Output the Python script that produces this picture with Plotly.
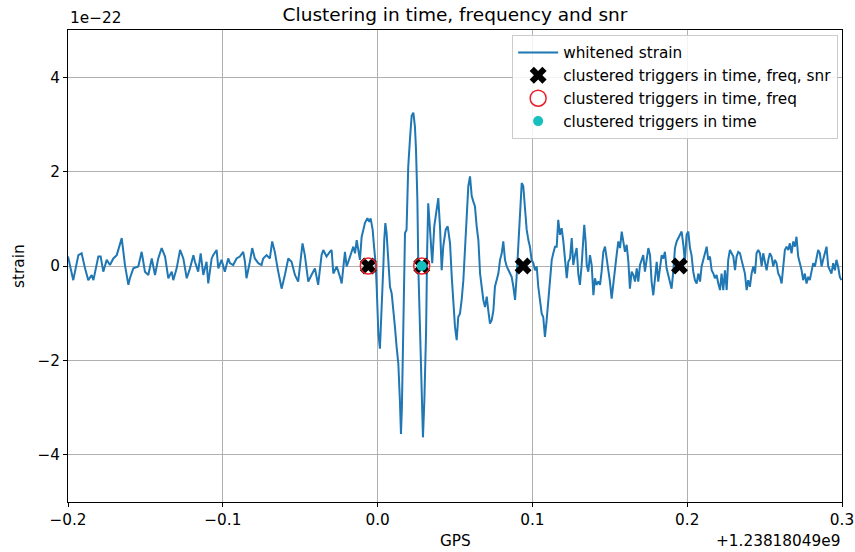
import plotly.graph_objects as go

# ---------------- data (offsets from GPS 1.23818049e9, strain in 1e-22) ----------------
t_offset = [
    -0.2000, -0.1966, -0.1933, -0.1912, -0.1890, -0.1869, -0.1847, -0.1836, -0.1804, -0.1789,
    -0.1772, -0.1750, -0.1729, -0.1707, -0.1685, -0.1653, -0.1632, -0.1610, -0.1600, -0.1578,
    -0.1546, -0.1524, -0.1503, -0.1481, -0.1459, -0.1438, -0.1417, -0.1395, -0.1373, -0.1352,
    -0.1330, -0.1320, -0.1298, -0.1276, -0.1255, -0.1233, -0.1212, -0.1190,
    -0.1180, -0.1159, -0.1143, -0.1126, -0.1105, -0.1094, -0.1072, -0.1062, -0.1040, -0.1029,
    -0.1008, -0.0987, -0.0965, -0.0954, -0.0933, -0.0911, -0.0890, -0.0868, -0.0857, -0.0847,
    -0.0825, -0.0810, -0.0793, -0.0771, -0.0750, -0.0739, -0.0717, -0.0696, -0.0681, -0.0664,
    -0.0646, -0.0631, -0.0620, -0.0599, -0.0577, -0.0556, -0.0534, -0.0513, -0.0491, -0.0485,
    -0.0470, -0.0448, -0.0427, -0.0405, -0.0384, -0.0362, -0.0351, -0.0330, -0.0309,
    -0.0297, -0.0286, -0.0264, -0.0243, -0.0232, -0.0211, -0.0200, -0.0178, -0.0157, -0.0146,
    -0.0135, -0.0114, -0.0103, -0.0092, -0.0082, -0.0066, -0.0053, -0.0045, -0.0032, -0.0023,
    -0.0013, -0.0006, 0.0005, 0.0015, 0.0026, 0.0037, 0.0043, 0.0050, 0.0058, 0.0069,
    0.0080, 0.0091, 0.0101, 0.0112, 0.0123, 0.0134, 0.0144, 0.0151, 0.0157, 0.0166,
    0.0177, 0.0187, 0.0198, 0.0209, 0.0220, 0.0231, 0.0241, 0.0248, 0.0257, 0.0263,
    0.0274, 0.0285, 0.0293, 0.0302, 0.0313, 0.0320, 0.0327, 0.0335, 0.0353,
    0.0366, 0.0381, 0.0392, 0.0403, 0.0414, 0.0424, 0.0440, 0.0453, 0.0468, 0.0479,
    0.0489, 0.0500, 0.0511, 0.0521, 0.0532, 0.0543, 0.0554, 0.0565, 0.0576, 0.0586,
    0.0597, 0.0608, 0.0618, 0.0629, 0.0640, 0.0651, 0.0662, 0.0672, 0.0683, 0.0694,
    0.0705, 0.0715, 0.0726, 0.0737, 0.0748, 0.0758, 0.0769, 0.0780, 0.0791, 0.0802,
    0.0812, 0.0823, 0.0834, 0.0844, 0.0855, 0.0866, 0.0877, 0.0888, 0.0898, 0.0909,
    0.0920, 0.0931, 0.0941, 0.0952, 0.0963, 0.0974, 0.0984, 0.0995, 0.1006, 0.1017,
    0.1028, 0.1038, 0.1049, 0.1060, 0.1070, 0.1081, 0.1092, 0.1103, 0.1114, 0.1125,
    0.1135, 0.1146, 0.1157, 0.1167,
    0.1178, 0.1189, 0.1200, 0.1211, 0.1222, 0.1232, 0.1243, 0.1254, 0.1264, 0.1275,
    0.1286, 0.1297, 0.1307, 0.1318, 0.1329, 0.1335, 0.1344, 0.1351, 0.1361, 0.1372,
    0.1383, 0.1394, 0.1404, 0.1415, 0.1426, 0.1437, 0.1447, 0.1458, 0.1469, 0.1480,
    0.1490, 0.1501, 0.1512, 0.1523, 0.1534, 0.1544, 0.1555, 0.1566, 0.1577, 0.1587,
    0.1598, 0.1609, 0.1620, 0.1630, 0.1641, 0.1652, 0.1663, 0.1674, 0.1684, 0.1695,
    0.1706, 0.1716, 0.1727, 0.1738, 0.1749, 0.1760, 0.1770, 0.1781, 0.1792, 0.1803,
    0.1813, 0.1824, 0.1835, 0.1846, 0.1856, 0.1867, 0.1878, 0.1889, 0.1899, 0.1910,
    0.1921, 0.1932, 0.1942, 0.1953, 0.1964, 0.1975, 0.1985, 0.1996, 0.2007, 0.2018,
    0.2028, 0.2039,
    0.2050, 0.2061, 0.2072, 0.2083, 0.2093, 0.2104, 0.2115, 0.2126, 0.2136, 0.2147,
    0.2158, 0.2169, 0.2179, 0.2190, 0.2201, 0.2212, 0.2222, 0.2233, 0.2244, 0.2255,
    0.2265, 0.2276, 0.2287, 0.2298, 0.2309, 0.2319, 0.2330, 0.2341, 0.2351, 0.2362,
    0.2373, 0.2384, 0.2394, 0.2405, 0.2416, 0.2427, 0.2438, 0.2448, 0.2459, 0.2470,
    0.2481, 0.2491, 0.2502, 0.2513, 0.2524, 0.2534, 0.2545, 0.2556, 0.2567, 0.2577,
    0.2588, 0.2599, 0.2610, 0.2620, 0.2631, 0.2642, 0.2653, 0.2663, 0.2674, 0.2685,
    0.2696, 0.2706, 0.2717, 0.2728, 0.2739, 0.2749, 0.2760, 0.2771, 0.2782, 0.2792,
    0.2803, 0.2814, 0.2825, 0.2835, 0.2846, 0.2857, 0.2868, 0.2878, 0.2889, 0.2900,
    0.2911, 0.2921, 0.2932, 0.2943, 0.2954, 0.2964, 0.2975, 0.2986, 0.2996,
]

strain = [
    0.20, -0.30, 0.23, 0.27, -0.05, -0.30, -0.19, -0.30, 0.20, 0.20,
    -0.12, 0.13, 0.02, 0.16, 0.23, 0.59, 0.02, -0.40, -0.26, -0.05,
    -0.01, 0.30, -0.12, -0.19, 0.16, -0.19, 0.16, 0.38, 0.20, -0.26,
    -0.12, -0.30, -0.05, 0.34, 0.16, -0.26, -0.05, 0.23,
    0.09, -0.12, 0.27, -0.19, 0.09, -0.37, 0.16, 0.23, 0.34, -0.05,
    0.13, -0.12, 0.16, 0.06, 0.02, 0.16, 0.20, 0.30, 0.09, -0.26,
    0.09, 0.38, 0.16, 0.06, 0.02, 0.16, 0.23, 0.16, 0.52, 0.30,
    -0.05, -0.26, -0.48, -0.19, 0.16, 0.09, -0.19, -0.33, 0.30, 0.48,
    0.23, -0.33, -0.19, -0.05, -0.40, 0.23, 0.34, 0.20, 0.30,
    0.34, -0.16, -0.01, -0.23, -0.37, 0.30, -0.01, 0.20, 0.41, 0.27,
    0.55, 0.13, 0.62, 0.77, 0.91, 1.01, 0.94, 1.01, 0.77, 0.41,
    0.06, -0.44, -1.43, -1.75, -1.00, -0.01, 0.55, 0.91, 0.70, 0.13,
    -0.44, -0.58, -0.87, -1.29, -1.72, -2.07, -2.85, -3.56, -2.99, -1.43,
    0.70, 0.77, 2.11, 2.68, 3.18, 3.25, 2.96, 2.47, 1.40, -0.01,
    -1.43, -2.85, -3.63, -2.85, -1.43, 0.30, 1.33, 0.95, 0.06,
    0.84, 1.19, 1.44, 0.84, -0.09, 0.41, 0.77, 0.84, 0.48, -0.23,
    -0.72, -1.29, -1.57, -1.08, -1.01, -0.72, -0.30, 0.41, 1.19, 1.69,
    1.90, 1.48, 1.37, 1.26, 0.84, 0.55, -0.16, -0.44, -0.72, -0.87,
    -0.65, -0.94, -1.22, -1.15, -0.94, -0.44, -0.30, -0.16, 0.13, 0.27,
    0.52, 0.13, -0.01, -0.09, -0.16, -0.23, -0.44, -0.72, -0.23, 0.48,
    1.19, 1.76, 1.69, 1.26, 0.77, 0.55, 0.41, 0.13, 0.06, -0.09,
    -0.01, -0.44, -0.72, -1.01, -1.08, -1.50, -1.15, -0.72, -0.30, 0.13,
    0.27, 0.41, 0.41, 0.98,
    0.66, 0.80, 0.52, 0.09, -0.26, 0.09, 0.16, 0.59, 0.02, 0.23,
    0.38, -0.19, -0.40, 0.02, 0.66, 0.87, 0.52, 0.02, -0.12, 0.23,
    0.02, -0.62, -0.26, -0.40, -0.33, -0.40, -0.12, 0.30, 0.41, 0.16,
    -0.12, -0.33, -0.69, -0.33, -0.12, 0.23, 0.52, 0.38, 0.73, 0.52,
    0.30, 0.45, 0.09, -0.48, -0.12, -0.19, -0.33, -0.05, -0.33, 0.02,
    0.16, 0.23, -0.12, 0.16, 0.38, 0.23, -0.33, -0.62, -0.19, 0.09,
    -0.33, -0.05, 0.23, 0.16, 0.30, -0.05, -0.19, -0.33, -0.48, -0.12,
    0.38, 0.52, 0.59, 0.66, 0.73, 0.45, 0.09, 0.66, 0.73, 0.38,
    0.23, -0.12,
    -0.30, -0.37, -0.16, -0.33, -0.01, 0.13, 0.27, 0.41, 0.13, 0.20,
    -0.09, -0.16, -0.26, -0.19, -0.37, -0.51, -0.16, -0.51, -0.09, -0.51,
    0.13, 0.34, 0.27, 0.20, -0.09, 0.20, 0.30, 0.27, 0.13, -0.01,
    -0.16, -0.51, -0.30, -0.44, -0.16, -0.01, -0.16, 0.27, 0.34, 0.27,
    -0.01, 0.27, 0.06, -0.09, 0.13, 0.27, 0.20, -0.01, 0.13, 0.06,
    -0.16, -0.23, -0.37, 0.06, 0.34, 0.41, 0.34, 0.48, 0.27, 0.52,
    0.41, 0.62, 0.20, 0.06, -0.09, -0.30, -0.16, -0.37, -0.23, -0.30,
    -0.09, 0.06, -0.01, 0.20, 0.34, 0.27, -0.01, 0.13, 0.27, 0.41,
    -0.01, -0.09, -0.16, 0.06, -0.09, 0.13, -0.01, -0.23, -0.30,
]

trig_time_freq_snr = [-0.0060, 0.0285, 0.0940, 0.1950]
trig_time_freq = [-0.0060, 0.0285]
trig_time = [0.0285]

x_tick_vals = [-0.2, -0.1, 0.0, 0.1, 0.2, 0.3]
x_tick_text = ["\u22120.2", "\u22120.1", "0.0", "0.1", "0.2", "0.3"]
y_tick_vals = [-4, -2, 0, 2, 4]
y_tick_text = ["\u22124", "\u22122", "0", "2", "4"]

FONT = "DejaVu Sans"
FS = 15.3

fig = go.Figure()
fig.add_trace(go.Scatter(
    x=t_offset, y=strain, mode="lines", name="whitened strain",
    line=dict(color="#1f77b4", width=2)))
fig.add_trace(go.Scatter(
    x=trig_time_freq_snr, y=[0] * len(trig_time_freq_snr), mode="markers",
    name="clustered triggers in time, freq, snr",
    marker=dict(symbol="x", color="black", size=15, line=dict(width=0))))
fig.add_trace(go.Scatter(
    x=trig_time_freq, y=[0] * len(trig_time_freq), mode="markers",
    name="clustered triggers in time, freq",
    marker=dict(symbol="circle-open", color="#e8202a", size=16, line=dict(width=1.5, color="#e8202a"))))
fig.add_trace(go.Scatter(
    x=trig_time, y=[0] * len(trig_time), mode="markers",
    name="clustered triggers in time",
    marker=dict(symbol="circle", color="#17bfbf", size=10, line=dict(width=0))))

axis_common = dict(
    showline=True, linecolor="black", linewidth=1, mirror=True,
    ticks="outside", ticklen=4, tickcolor="black", tickwidth=1,
    showgrid=True, gridcolor="#b0b0b0", gridwidth=1, zeroline=False,
    automargin=False,
    tickfont=dict(family=FONT, size=FS, color="black"),
)

fig.update_xaxes(range=[-0.2, 0.3], tickvals=x_tick_vals, ticktext=x_tick_text, **axis_common)
fig.update_yaxes(range=[-5, 5], tickvals=y_tick_vals, ticktext=y_tick_text, **axis_common)

fig.update_layout(
    width=855, height=552,
    margin=dict(l=68, r=13, t=30, b=50, autoexpand=False),
    paper_bgcolor="white", plot_bgcolor="white",
    font=dict(family=FONT, size=FS, color="black"),
    title=dict(text="Clustering in time, frequency and snr", x=0.5, xref="paper",
               y=1, yref="paper", yanchor="bottom", pad=dict(b=9),
               font=dict(family=FONT, size=18.5, color="black")),
    showlegend=True,
    legend=dict(x=0.995, y=0.9894, xanchor="right", yanchor="top", itemwidth=40,
                bgcolor="rgba(255,255,255,0.85)", bordercolor="#cccccc", borderwidth=1,
                font=dict(family=FONT, size=FS, color="black")),
    annotations=[
        dict(text="GPS", x=0.5, y=0, xref="paper", yref="paper", xanchor="center",
             yanchor="middle", yshift=-39, showarrow=False, font=dict(family=FONT, size=FS)),
        dict(text="strain", x=0, y=0.5, xref="paper", yref="paper", xanchor="center",
             yanchor="middle", xshift=-49, textangle=-90, showarrow=False,
             font=dict(family=FONT, size=FS)),
        dict(text="1e\u221222", x=0, y=1, xref="paper", yref="paper", xanchor="left",
             yanchor="bottom", yshift=1, showarrow=False, font=dict(family=FONT, size=FS)),
        dict(text="+1.23818049e9", x=1, y=0, xref="paper", yref="paper", xanchor="right",
             yanchor="middle", yshift=-39, showarrow=False, font=dict(family=FONT, size=FS)),
    ],
)

fig.write_html("out.html")
